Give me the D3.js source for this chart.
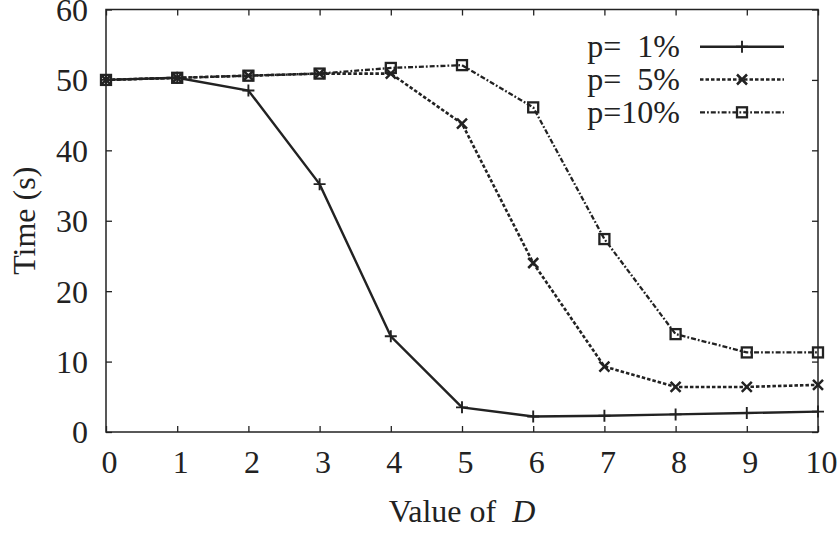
<!DOCTYPE html>
<html>
<head>
<meta charset="utf-8">
<script src="https://cdn.jsdelivr.net/npm/d3@7"></script>
<style>
  html, body { margin: 0; padding: 0; background: #fff; }
  svg text { font-family: "Liberation Serif", "Times New Roman", serif; fill: #222; }
</style>
</head>
<body>
<svg id="chart" width="840" height="535"></svg>
<script>
// Values of D on the x axis
const dValues = [0, 1, 2, 3, 4, 5, 6, 7, 8, 9, 10];

// Time (s) for each loss rate p
const timeP1  = [50.0, 50.3, 48.5, 35.2, 13.6, 3.5, 2.2, 2.3, 2.5, 2.7, 2.9];
const timeP5  = [50.0, 50.3, 50.6, 50.9, 50.9, 43.8, 24.0, 9.3, 6.4, 6.4, 6.7];
const timeP10 = [50.0, 50.3, 50.6, 50.9, 51.7, 52.1, 46.1, 27.4, 13.9, 11.3, 11.3];

const seriesLabels = ["p=  1%", "p=  5%", "p=10%"];
const xTicks = [0, 1, 2, 3, 4, 5, 6, 7, 8, 9, 10];
const yTicks = [0, 10, 20, 30, 40, 50, 60];

const series = [
  { label: seriesLabels[0], values: timeP1,  dash: null,        width: 2.4, marker: "plus" },
  { label: seriesLabels[1], values: timeP5,  dash: "3.5,2",     width: 2.6, marker: "cross" },
  { label: seriesLabels[2], values: timeP10, dash: "5,2,1.8,2", width: 2.3, marker: "square" }
];

const svg = d3.select("#chart");
const margin = { left: 106, right: 22, top: 9.5, bottom: 103 };
const W = 840, H = 535;
const x = d3.scaleLinear().domain([0, 10]).range([margin.left, W - margin.right]);
const y = d3.scaleLinear().domain([0, 60]).range([H - margin.bottom, margin.top]);
const ink = "#222";
const fontSize = 32;
const serifStack = '"Liberation Serif", "Times New Roman", serif';

// Tick marks on all four sides, pointing inward
const tickLen = 6;
const xAxisB = d3.axisBottom(x).tickValues(xTicks).tickSize(-tickLen).tickFormat(d => d).tickPadding(12);
const xAxisT = d3.axisTop(x).tickValues(xTicks).tickSize(-tickLen).tickFormat("");
const yAxisL = d3.axisLeft(y).tickValues(yTicks).tickSize(-tickLen).tickFormat(d => d).tickPadding(18);
const yAxisR = d3.axisRight(y).tickValues(yTicks).tickSize(-tickLen).tickFormat("");

function styleAxis(g) {
  g.attr("font-family", serifStack);
  g.select(".domain").remove();
  g.selectAll(".tick line").attr("stroke", ink).attr("stroke-width", 1.3);
  g.selectAll(".tick text")
    .attr("fill", ink)
    .style("font-family", serifStack)
    .style("font-size", fontSize + "px");
}

svg.append("g").attr("transform", `translate(0,${y(0)})`).call(xAxisB).call(styleAxis)
  .selectAll(".tick text").attr("dx", 3).attr("dy", "0.9em");
svg.append("g").attr("transform", `translate(0,${y(60)})`).call(xAxisT).call(styleAxis);
svg.append("g").attr("transform", `translate(${x(0)},0)`).call(yAxisL).call(styleAxis)
  .selectAll(".tick text").attr("dy", "0.34em");
svg.append("g").attr("transform", `translate(${x(10)},0)`).call(yAxisR).call(styleAxis);

// Plot border
svg.append("rect")
  .attr("x", x(0)).attr("y", y(60))
  .attr("width", x(10) - x(0)).attr("height", y(0) - y(60))
  .attr("fill", "none").attr("stroke", ink).attr("stroke-width", 1.5);

// Axis titles
const xTitle = svg.append("text")
  .attr("x", (x(0) + x(10)) / 2).attr("y", 522)
  .attr("text-anchor", "middle")
  .style("font-size", fontSize + "px");
xTitle.append("tspan").text("Value of ");
xTitle.append("tspan").attr("font-style", "italic").text("\u00A0D");

svg.append("text")
  .attr("transform", `translate(35,${(y(0) + y(60)) / 2}) rotate(-90)`)
  .attr("text-anchor", "middle")
  .style("font-size", fontSize + "px")
  .text("Time (s)");

// Marker shapes
function drawMarker(g, kind, cx, cy) {
  if (kind === "plus") {
    g.append("path").attr("d", `M${cx - 6},${cy}H${cx + 6}M${cx},${cy - 6}V${cy + 6}`)
      .attr("stroke", ink).attr("stroke-width", 1.9).attr("fill", "none");
  } else if (kind === "cross") {
    g.append("path").attr("d", `M${cx - 5},${cy - 5}L${cx + 5},${cy + 5}M${cx - 5},${cy + 5}L${cx + 5},${cy - 5}`)
      .attr("stroke", ink).attr("stroke-width", 2.5).attr("fill", "none");
  } else {
    g.append("rect").attr("x", cx - 5).attr("y", cy - 5).attr("width", 10).attr("height", 10)
      .attr("stroke", ink).attr("stroke-width", 2.3).attr("fill", "none");
  }
}

const line = d3.line().x((d, i) => x(dValues[i])).y(d => y(d));

series.forEach(s => {
  const g = svg.append("g");
  g.append("path")
    .datum(s.values)
    .attr("d", line)
    .attr("fill", "none")
    .attr("stroke", ink)
    .attr("stroke-width", s.width)
    .attr("stroke-dasharray", s.dash);
  s.values.forEach((v, i) => drawMarker(g, s.marker, x(dValues[i]), y(v)));
});

// Legend
const legendRowY = [46.7, 79.5, 112.3];
series.forEach((s, i) => {
  const ly = legendRowY[i];
  svg.append("text")
    .attr("x", 680).attr("y", ly + 10.5)
    .attr("text-anchor", "end")
    .style("font-size", fontSize + "px")
    .style("white-space", "pre")
    .text(s.label);
  const g = svg.append("g");
  g.append("line")
    .attr("x1", 700).attr("x2", 784).attr("y1", ly).attr("y2", ly)
    .attr("stroke", ink).attr("stroke-width", s.width)
    .attr("stroke-dasharray", s.dash);
  drawMarker(g, s.marker, 742, ly);
});
</script>
</body>
</html>
